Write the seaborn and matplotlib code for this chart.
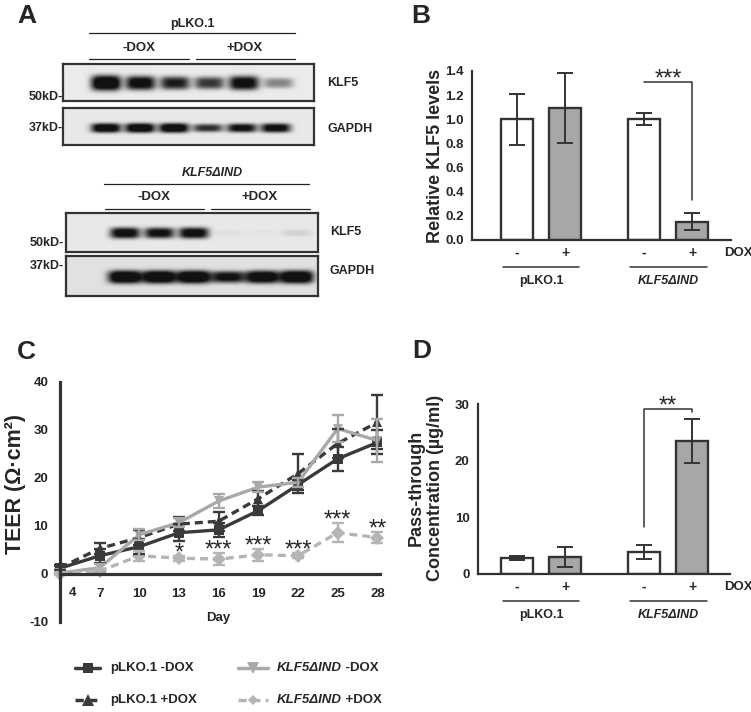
import numpy as np
import pandas as pd
import matplotlib
matplotlib.use("Agg")
import matplotlib.pyplot as plt
import seaborn as sns
from matplotlib.lines import Line2D
from matplotlib.offsetbox import TextArea, HPacker, AnnotationBbox

# ---- panel A: band darkness per lane (-DOX x3, +DOX x3) ----
plko_klf5 = [1.0, 0.85, 0.72, 0.62, 0.85, 0.35]
plko_gapdh = [0.92, 0.95, 0.95, 0.65, 0.8, 0.85]
ind_klf5 = [0.85, 0.8, 0.85, 0.03, 0.02, 0.08]
ind_gapdh = [1.0, 1.0, 1.0, 0.8, 0.95, 1.0]

# ---- panels B and D: bar groups ----
vectors = ["pLKO.1", "pLKO.1", "KLF5ΔIND", "KLF5ΔIND"]
dox = ["-", "+", "-", "+"]
klf5_rel = [1.0, 1.09, 1.0, 0.15]
klf5_err = [0.21, 0.29, 0.05, 0.07]
pass_conc = [2.8, 3.0, 3.9, 23.5]
pass_err = [0.3, 1.8, 1.2, 3.9]

# ---- panel C: TEER time course ----
days = [4, 7, 10, 13, 16, 19, 22, 25, 28]
series = ["pLKO.1 -DOX", "pLKO.1 +DOX", "KLF5ΔIND -DOX", "KLF5ΔIND +DOX"]
teer_plko_minus = [1.2, 3.8, 5.7, 8.6, 9.2, 13.2, 18.6, 24.0, 27.4]
teer_plko_plus = [1.3, 5.3, 7.6, 10.4, 11.0, 15.7, 20.9, 27.2, 31.6]
teer_ind_minus = [0.2, 1.3, 8.2, 10.7, 15.2, 18.1, 19.1, 30.3, 27.8]
teer_ind_plus = [0.1, 0.6, 3.8, 3.3, 3.1, 4.0, 3.8, 8.6, 7.6]
err_plko_minus = [0.5, 1.5, 1.5, 1.8, 1.5, 1.0, 1.0, 2.5, 2.5]
err_plko_plus = [0.5, 1.2, 1.5, 1.5, 2.0, 1.5, 4.0, 3.0, 5.6]
err_ind_minus = [0.3, 0.8, 1.2, 1.0, 1.5, 1.0, 1.0, 2.9, 4.4]
err_ind_plus = [0.2, 0.5, 1.0, 0.5, 1.3, 1.3, 0.5, 2.0, 1.2]
sig_days = [13, 16, 19, 22, 25, 28]
sig_marks = ["*", "***", "***", "***", "***", "**"]

W, H = 751, 712
INK = "#333333"
FONT = ["Liberation Sans", "DejaVu Sans"]

sns.set_style("white")
plt.rcParams.update({"font.family": FONT, "font.weight": "bold",
                     "axes.labelweight": "bold", "axes.unicode_minus": False})

fig = plt.figure(figsize=(W / 100, H / 100), dpi=100)


def ftext(px, py, s, size=9, **kw):
    kw.setdefault("ha", "center")
    kw.setdefault("va", "center")
    fig.text(px / W, 1 - py / H, s, fontsize=size, **kw)


def fline(xs, ys, **kw):
    kw.setdefault("color", "#222222")
    kw.setdefault("lw", 0.9)
    fig.add_artist(Line2D([x / W for x in xs], [1 - y / H for y in ys],
                          transform=fig.transFigure, **kw))


def px_axes(x0, y0, x1, y1):
    return fig.add_axes([x0 / W, 1 - y1 / H, (x1 - x0) / W, (y1 - y0) / H])


# ================= panel A: western blots =================
def blot(box, dark_levels, first, step, yc, half_w, half_h, bg):
    x0, y0, x1, y1 = box
    ax = px_axes(x0, y0, x1, y1)
    X, Y = np.meshgrid(np.linspace(x0, x1, 2 * (x1 - x0)),
                       np.linspace(y0, y1, 2 * (y1 - y0)))
    dark = np.zeros_like(X)
    for i, a in enumerate(dark_levels):
        cx = first + i * step
        hh = half_h * (0.55 + 0.55 * a)
        dark += a * np.exp(-np.abs((X - cx) / half_w) ** 4) * np.exp(-np.abs((Y - yc) / hh) ** 3)
    img = bg - np.clip(1.35 * dark, 0, 1) * (bg - 0.07)
    ax.imshow(img, cmap="gray", vmin=0, vmax=1, extent=(x0, x1, y1, y0),
              aspect="auto", interpolation="bilinear")
    ax.set_xticks([])
    ax.set_yticks([])
    for sp in ax.spines.values():
        sp.set_linewidth(1.6)
        sp.set_color(INK)
    return ax


blot((63, 64, 314, 101), plko_klf5, 106, 34.5, 83, 15, 7.0, 0.92)
blot((63, 108, 314, 145), plko_gapdh, 106, 34, 128, 15, 4.5, 0.91)
blot((66, 213, 318, 252), ind_klf5, 125, 34.4, 233, 15, 5.5, 0.91)
blot((66, 256, 318, 296), ind_gapdh, 125, 34.4, 277, 17, 6.0, 0.88)

ftext(27, 16, "A", size=19)
ftext(192, 24, "pLKO.1", size=9)
fline([89, 295], [33, 33])
ftext(139, 48, "-DOX", size=9.5)
ftext(245, 48, "+DOX", size=9.5)
fline([89, 189], [59, 59])
fline([196, 295], [59, 59])
ftext(63, 97, "50kD-", ha="right")
ftext(63, 128, "37kD-", ha="right")
ftext(327, 83, "KLF5", ha="left")
ftext(327, 129, "GAPDH", ha="left")

ftext(212, 173, "KLF5ΔIND", size=9, fontstyle="italic")
fline([104, 309], [184, 184])
ftext(154, 197, "-DOX", size=9.5)
ftext(260, 197, "+DOX", size=9.5)
fline([105, 204], [209, 209])
fline([211, 310], [209, 209])
ftext(64, 243, "50kD-", ha="right")
ftext(64, 266, "37kD-", ha="right")
ftext(330, 232, "KLF5", ha="left")
ftext(330, 271, "GAPDH", ha="left")

# ================= panels B and D: bars =================
bar_x = [0, 1, 2.65, 3.65]
PX_UNIT = 48.0  # pixels per bar slot
BAR0_PX = 517


def style_axis(ax, lw):
    sns.despine(ax=ax)
    for s in ("left", "bottom"):
        ax.spines[s].set_linewidth(lw)
        ax.spines[s].set_color(INK)


def bar_panel(ax, values, errs, ymax, ticks, fmt, left_px, right_px, axis_h):
    df = pd.DataFrame({"pos": bar_x, "value": values, "dox": dox})
    sns.barplot(data=df, x="pos", y="value", hue="dox", native_scale=True,
                dodge=False, width=0.667, palette={"-": "white", "+": "#a7a7a7"},
                edgecolor=INK, linewidth=1.7, errorbar=None, legend=False, ax=ax)
    ax.errorbar(bar_x, values, yerr=errs, fmt="none", ecolor=INK,
                elinewidth=1.4, capsize=6, capthick=1.4, zorder=3)
    ax.set_xlim((left_px - BAR0_PX) / PX_UNIT, (right_px - BAR0_PX) / PX_UNIT)
    ax.set_ylim(0, ymax)
    ax.set_yticks(ticks)
    ax.set_yticklabels([fmt.format(t) for t in ticks])
    ax.set_xticks(bar_x)
    ax.set_xticklabels(dox)
    ax.set_xlabel("")
    ax.set_ylabel("")
    ax.tick_params(axis="x", length=0, pad=4, labelsize=10)
    ax.tick_params(axis="y", length=4, width=1.4, color=INK, pad=2, labelsize=9.5)
    style_axis(ax, 1.6)
    tr = ax.get_xaxis_transform()
    ax.text((738 - BAR0_PX) / PX_UNIT, -13.5 / axis_h, "DOX", transform=tr,
            ha="center", va="center", fontsize=9.5)
    for (a, b), name, st in zip([(0, 1), (2, 3)], [vectors[0], vectors[2]],
                                ["normal", "italic"]):
        ax.plot([bar_x[a] - 0.3, bar_x[b] + 0.3], [-27 / axis_h] * 2, transform=tr,
                color=INK, lw=1.1, clip_on=False)
        ax.text((bar_x[a] + bar_x[b]) / 2, -41 / axis_h, name, transform=tr,
                ha="center", va="center", fontsize=9, fontstyle=st)


def stars(ax, x, y, s):
    ax.annotate(s, xy=(x, y), xytext=(0, -2.5), textcoords="offset points",
                ha="center", va="baseline", fontsize=17, fontweight="normal",
                annotation_clip=False)


axB = px_axes(472, 71, 731, 240)
bar_panel(axB, klf5_rel, klf5_err, 1.4, [0, 0.2, 0.4, 0.6, 0.8, 1.0, 1.2, 1.4],
          "{:.1f}", 472, 731, 169)
axB.plot([bar_x[2], bar_x[3], bar_x[3]], [1.31, 1.31, 0.33], color=INK, lw=1.1,
         clip_on=False)
stars(axB, (bar_x[2] + bar_x[3]) / 2, 1.31, "***")
ftext(435, 155.5, "Relative KLF5 levels", size=13, rotation=90)
ftext(421, 16, "B", size=19)

axD = px_axes(478, 404, 730, 574)
bar_panel(axD, pass_conc, pass_err, 30, [0, 10, 20, 30], "{:d}", 478, 730, 170)
axD.plot([bar_x[2], bar_x[2], bar_x[3], bar_x[3]], [8.3, 29.1, 29.1, 28.6],
         color=INK, lw=1.1, clip_on=False)
stars(axD, (bar_x[2] + bar_x[3]) / 2, 29.1, "**")
ftext(426, 488, "Pass-through\nConcentration (µg/ml)", size=13, rotation=90,
      linespacing=1.15, multialignment="center")
ftext(422, 351, "D", size=19)

# ================= panel C: TEER =================
colors = ["#3a3a3a", "#3a3a3a", "#a9a9a9", "#b5b5b5"]
dash_styles = ["", (2.4, 1.5), "", (2.4, 1.5)]
marker_styles = ["s", "^", "v", "D"]
marker_sizes = [7, 8, 8, 5]
teer_all = [teer_plko_minus, teer_plko_plus, teer_ind_minus, teer_ind_plus]
err_all = [err_plko_minus, err_plko_plus, err_ind_minus, err_ind_plus]

axC = px_axes(60, 382, 380, 622)
df_c = pd.DataFrame({"day": days * 4,
                     "teer": sum(teer_all, []),
                     "series": np.repeat(series, len(days))})
sns.lineplot(data=df_c, x="day", y="teer", hue="series", style="series",
             hue_order=series, style_order=series,
             palette=dict(zip(series, colors)), dashes=dict(zip(series, dash_styles)),
             markers=dict(zip(series, marker_styles)), markersize=7,
             markeredgewidth=0, linewidth=2.4, errorbar=None, legend=False,
             ax=axC, clip_on=False)
for vals, errs, c in zip(teer_all, err_all, colors):
    axC.errorbar(days, vals, yerr=errs, fmt="none", ecolor=c, elinewidth=1.7,
                 capsize=4.5, capthick=1.7, clip_on=False)

axC.set_xlim(4, 28.2)
axC.set_ylim(-10, 40)
axC.set_yticks([-10, 0, 10, 20, 30, 40])
axC.set_xticks(days)
axC.set_xticklabels([""] + [str(d) for d in days[1:]])
axC.annotate(str(days[0]), xy=(days[0], 0), xytext=(9, -13.5), textcoords="offset points",
             ha="center", va="center", fontsize=9.5)
axC.set_xlabel("")
axC.set_ylabel("")
style_axis(axC, 2.3)
axC.spines["bottom"].set_position(("data", 0))
axC.tick_params(axis="y", length=5, width=2.2, color=INK, pad=3.5, labelsize=9.5)
axC.tick_params(axis="x", length=6.5, width=2.2, color=INK, pad=3.5, labelsize=9.5)
axC.text(16, -9.2, "Day", ha="center", va="center", fontsize=9.5)
top_ind_plus = [v + e for v, e in zip(teer_ind_plus, err_ind_plus)]
for d, s in zip(sig_days, sig_marks):
    stars(axC, d, top_ind_plus[days.index(d)], s)

ftext(16, 484, "TEER (Ω·cm²)", size=15.5, rotation=90)
ftext(26, 352, "C", size=19)

# legend, built by hand so the gene name can be italic
legend_pos = [(75, 100, 110, 668), (75, 100, 110, 700),
              (238, 268, 277, 668), (238, 268, 277, 700)]
for (lx0, lx1, tx, ty), name, c, dsh, mk, ms in zip(legend_pos, series, colors,
                                                    dash_styles, marker_styles,
                                                    marker_sizes):
    ls = (0, dsh) if dsh else "-"
    fline([lx0, (lx0 + lx1) / 2, lx1], [ty] * 3, color=c, lw=2.5, ls=ls,
          marker=mk, markersize=ms, markevery=[1], markeredgewidth=0)
    gene, cond = name.split(" ")
    parts = [(gene, "italic" if "Δ" in gene else "normal"), (" " + cond, "normal")]
    box = HPacker(children=[TextArea(t, textprops=dict(fontsize=9.5, fontweight="bold",
                                                       fontstyle=st, family=FONT))
                            for t, st in parts],
                  align="baseline", pad=0, sep=0)
    fig.add_artist(AnnotationBbox(box, (tx / W, 1 - ty / H), xycoords="figure fraction",
                                  box_alignment=(0, 0.5), frameon=False, pad=0))

fig.savefig("out.png", dpi=100)
